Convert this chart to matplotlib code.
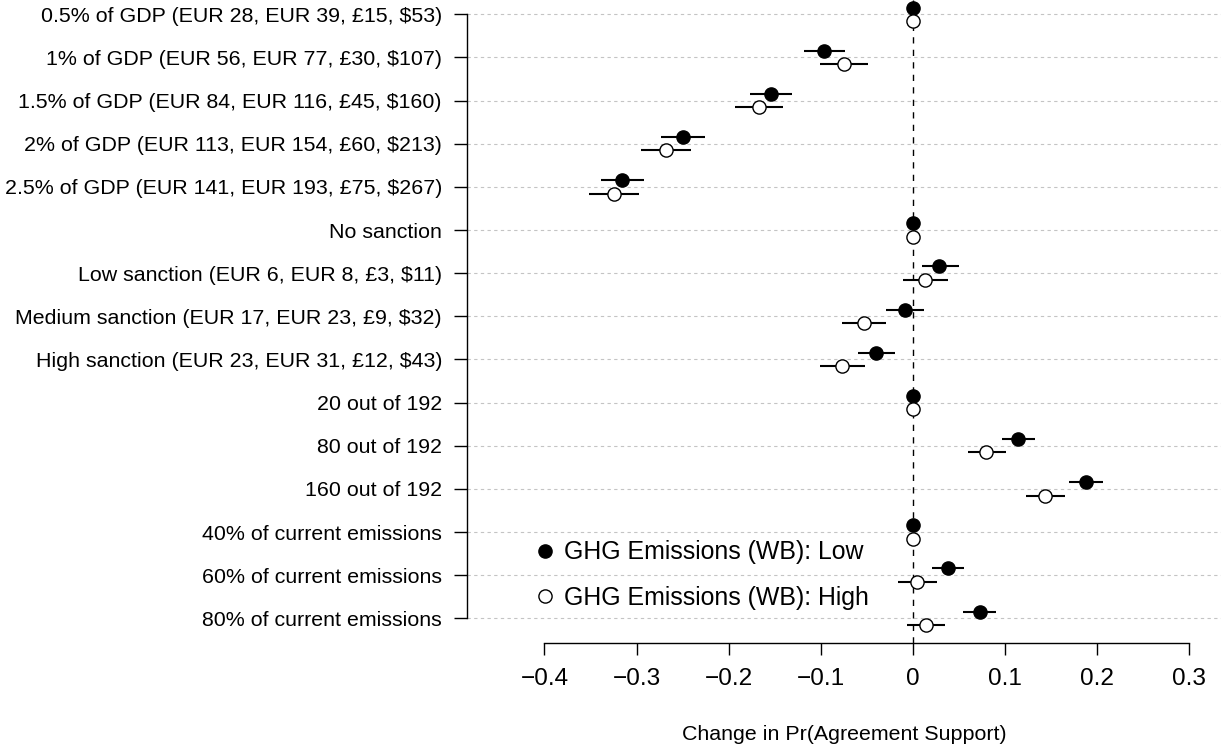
import numpy as np
import matplotlib
matplotlib.use("Agg")
import matplotlib.pyplot as plt

plt.rcParams['font.family'] = ['Liberation Sans', 'DejaVu Sans']

labels = [
    "0.5% of GDP (EUR 28, EUR 39, £15, $53)",
    "1% of GDP (EUR 56, EUR 77, £30, $107)",
    "1.5% of GDP (EUR 84, EUR 116, £45, $160)",
    "2% of GDP (EUR 113, EUR 154, £60, $213)",
    "2.5% of GDP (EUR 141, EUR 193, £75, $267)",
    "No sanction",
    "Low sanction (EUR 6, EUR 8, £3, $11)",
    "Medium sanction (EUR 17, EUR 23, £9, $32)",
    "High sanction (EUR 23, EUR 31, £12, $43)",
    "20 out of 192",
    "80 out of 192",
    "160 out of 192",
    "40% of current emissions",
    "60% of current emissions",
    "80% of current emissions",
]

# GHG emissions (WB): Low
low_est = [0, -0.096, -0.154, -0.2495, -0.316, 0, 0.029, -0.0087, -0.040, 0, 0.1145, 0.188, 0, 0.038, 0.0725]
low_lo = [0, -0.1186, -0.177, -0.2734, -0.339, 0, 0.0098, -0.0293, -0.060, 0, 0.097, 0.170, 0, 0.0211, 0.0547]
low_hi = [0, -0.0733, -0.131, -0.2256, -0.2923, 0, 0.0503, 0.0123, -0.019, 0, 0.1324, 0.2064, 0, 0.0557, 0.0909]

# GHG emissions (WB): High
high_est = [0, -0.075, -0.167, -0.268, -0.325, 0, 0.0134, -0.0529, -0.0765, 0, 0.080, 0.1437, 0, 0.0049, 0.0141]
high_lo = [0, -0.101, -0.1935, -0.2955, -0.352, 0, -0.0103, -0.0765, -0.1006, 0, 0.0595, 0.1227, 0, -0.0157, -0.0065]
high_hi = [0, -0.049, -0.1406, -0.2408, -0.2973, 0, 0.0385, -0.0293, -0.0518, 0, 0.1016, 0.1658, 0, 0.026, 0.0352]

xticks = [-0.4, -0.3, -0.2, -0.1, 0, 0.1, 0.2, 0.3]
xtick_labels = ["\u22120.4", "\u22120.3", "\u22120.2", "\u22120.1", "0", "0.1", "0.2", "0.3"]

W, H = 1221, 745
fig = plt.figure(figsize=(W / 100, H / 100), dpi=100)
ax = fig.add_axes([467 / W, (H - 643.3) / H, 1 - 467 / W, 643.3 / H])

n = len(labels)
pos = np.arange(n, 0, -1)
off = 0.155

for p in pos:
    ax.axhline(p, color='#c4c4c4', lw=0.8, ls=(0, (3, 3)), zorder=1)
ax.axvline(0, color='black', lw=1.0, ls=(0, (4.5, 4.5)), zorder=2)

ax.hlines(pos + off, low_lo, low_hi, color='black', lw=1.5, zorder=3)
ax.hlines(pos - off, high_lo, high_hi, color='black', lw=1.5, zorder=3)
ax.plot(low_est, pos + off, 'o', ms=9.5, mfc='black', mec='black', mew=1.0,
        ls='none', zorder=4, label="GHG Emissions (WB): Low")
ax.plot(high_est, pos - off, 'o', ms=9.5, mfc='white', mec='black', mew=1.0,
        ls='none', zorder=4, label="GHG Emissions (WB): High")

ax.set_xlim(-0.4841, 0.3347)
ax.set_ylim(0.4205, 15.331)

ax.set_yticks(pos)
ax.set_yticklabels(labels, fontsize=15.4)
ax.set_xticks(xticks)
ax.set_xticklabels(xtick_labels, fontsize=17.6)
ax.tick_params(axis='y', length=9.4, width=1.0, pad=8.6)
ax.tick_params(axis='x', length=8.6, width=1.0, pad=9)

for s in ['top', 'right']:
    ax.spines[s].set_visible(False)
ax.spines['left'].set_bounds(1, n)
ax.spines['bottom'].set_bounds(-0.4, 0.3)
ax.spines['left'].set_linewidth(1.0)
ax.spines['bottom'].set_linewidth(1.0)

ax.set_xlabel("Change in Pr(Agreement Support)", fontsize=15.4, labelpad=25.6)

ax.legend(loc='center left', bbox_to_anchor=(0.0867, 0.106), frameon=False,
          fontsize=17.9, borderpad=0, handlelength=1.0, handletextpad=0.27,
          labelspacing=0.86, borderaxespad=0)

fig.savefig("out.png", dpi=100)
